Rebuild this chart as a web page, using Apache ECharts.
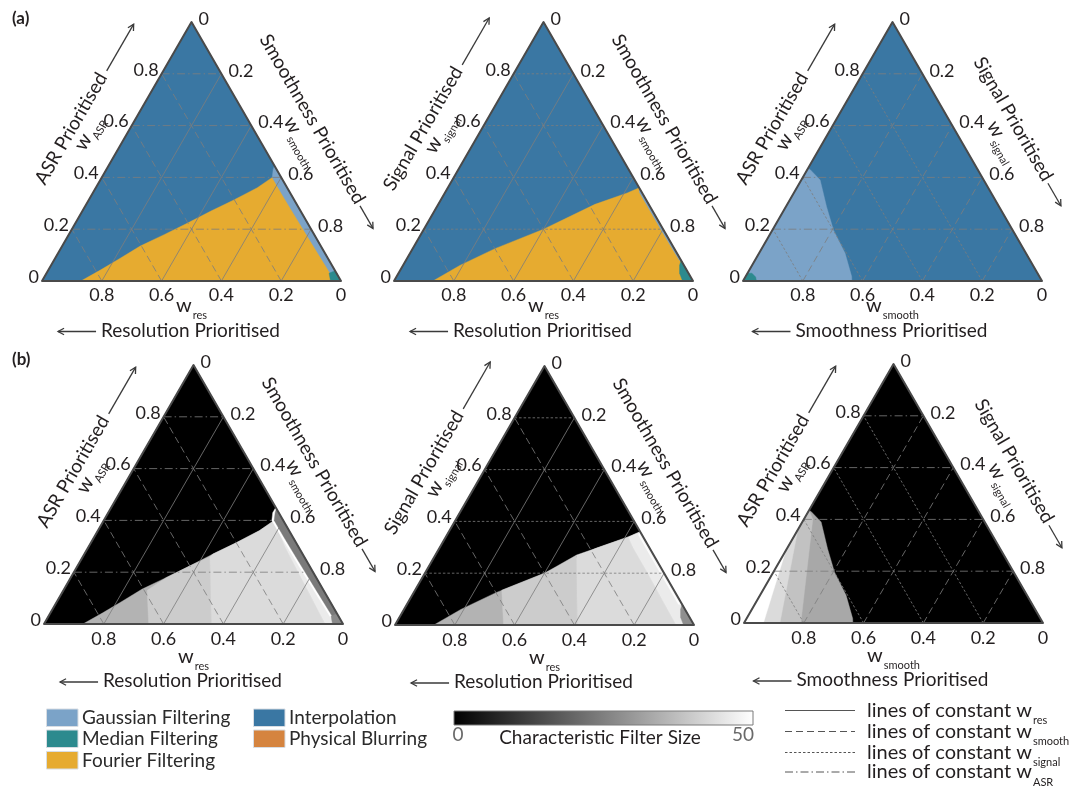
<!DOCTYPE html>
<html>
<head>
<meta charset="utf-8">
<title>Ternary maps of the preferred processing method</title>
<script src="https://cdn.jsdelivr.net/npm/echarts@6/dist/echarts.min.js"></script>
<style>
  html, body { margin: 0; padding: 0; background: #ffffff; }
  #chart { width: 1079px; height: 798px; }
</style>
</head>
<body>
<div id="chart"></div>
<script>
// ---------------------------------------------------------------------------
// Data
// Ternary points are written as [bottom-left weight, bottom-right weight, top weight].
// ---------------------------------------------------------------------------
const tickValues = [0, 0.2, 0.4, 0.6, 0.8];
const gridValues = [0.2, 0.4, 0.6, 0.8];

// corner weights of each column of panels: [bottom-left, bottom-right, top]
const panelWeights = [
  ['res', 'smooth', 'ASR'],
  ['res', 'smooth', 'signal'],
  ['smooth', 'signal', 'ASR']
];
const priorityNames = {
  res: 'Resolution Prioritised',
  smooth: 'Smoothness Prioritised',
  signal: 'Signal Prioritised',
  ASR: 'ASR Prioritised'
};

const methods = ['Gaussian Filtering', 'Median Filtering', 'Fourier Filtering', 'Interpolation', 'Physical Blurring'];
const methodColors = ['#7ba3c8', '#2c8a8e', '#e6ab30', '#3a77a3', '#d5843f'];

const filterSizeRange = [0, 50];
const filterSizeColors = ['#000000', '#ffffff'];

const triangleFull = [[1, 0, 0], [0, 1, 0], [0, 0, 1]];

// column 1: (res, smooth, ASR)
const p1Fourier = [[0.87, 0.13, 0], [0.784, 0.174, 0.042], [0.70, 0.215, 0.085], [0.604, 0.261, 0.135],
  [0.50, 0.32, 0.18], [0.403, 0.374, 0.223], [0.30, 0.43, 0.27], [0.202, 0.485, 0.313],
  [0.10, 0.54, 0.36], [0.03, 0.57, 0.40], [0, 0.59, 0.41], [0, 1, 0]];
const p1Gaussian = [[0, 0.555, 0.445], [0.012, 0.558, 0.43], [0.03, 0.57, 0.40], [0.03, 0.64, 0.33],
  [0.028, 0.722, 0.25], [0.025, 0.825, 0.15], [0.022, 0.918, 0.06], [0.02, 0.98, 0], [0, 1, 0]];
const p1Median = [[0.035, 0.965, 0], [0.025, 0.945, 0.03], [0, 0.96, 0.04], [0, 1, 0]];
const p1BandB = [[0.65, 0.35, 0], [0.59, 0.28, 0.13], [0.50, 0.32, 0.18], [0.403, 0.374, 0.223],
  [0.315, 0.425, 0.26], [0.44, 0.56, 0]];
const p1BandC = [[0.44, 0.56, 0], [0.315, 0.425, 0.26], [0.30, 0.43, 0.27], [0.202, 0.485, 0.313],
  [0.10, 0.54, 0.36], [0.03, 0.57, 0.40], [0.045, 0.655, 0.30], [0.05, 0.75, 0.20],
  [0.055, 0.845, 0.10], [0.06, 0.94, 0]];
const p1BandD = [[0.03, 0.57, 0.40], [0.045, 0.655, 0.30], [0.05, 0.75, 0.20], [0.055, 0.845, 0.10],
  [0.06, 0.94, 0], [0, 1, 0], [0, 0.59, 0.41]];
const p1Halo = [[0, 0.55, 0.45], [0.02, 0.55, 0.43], [0.038, 0.562, 0.40], [0.038, 0.632, 0.33],
  [0.036, 0.714, 0.25], [0.033, 0.817, 0.15], [0.03, 0.91, 0.06], [0.028, 0.972, 0], [0, 1, 0]];

// column 2: (res, smooth, signal)
const p2Fourier = [[0.87, 0.13, 0], [0.75, 0.19, 0.06], [0.6, 0.275, 0.125], [0.4, 0.4, 0.2],
  [0.18, 0.524, 0.296], [0.05, 0.61, 0.34], [0, 0.64, 0.36], [0, 1, 0]];
const p2Gaussian = [[0, 0.64, 0.36], [0.008, 0.65, 0.342], [0.008, 0.8, 0.192], [0.006, 0.914, 0.08], [0, 0.92, 0.08]];
const p2Median = [[0.035, 0.965, 0], [0.03, 0.94, 0.03], [0.015, 0.925, 0.06], [0, 0.92, 0.08], [0, 1, 0]];
const p2BandB = [[0.637, 0.363, 0], [0.576, 0.29, 0.134], [0.4, 0.4, 0.2], [0.258, 0.472, 0.27], [0.39, 0.61, 0]];
const p2BandC = [[0.39, 0.61, 0], [0.258, 0.472, 0.27], [0.18, 0.524, 0.296], [0.05, 0.61, 0.34],
  [0.055, 0.645, 0.30], [0.055, 0.745, 0.20], [0.058, 0.842, 0.10], [0.06, 0.94, 0]];
const p2BandD = [[0.05, 0.61, 0.34], [0.055, 0.645, 0.30], [0.055, 0.745, 0.20], [0.058, 0.842, 0.10],
  [0.06, 0.94, 0], [0, 1, 0], [0, 0.64, 0.36]];
const p2Halo = [[0, 0.64, 0.36], [0.012, 0.64, 0.348], [0.012, 0.908, 0.08], [0, 0.92, 0.08]];

// column 3: (smooth, signal, ASR)
const p3Gaussian = [[0.565, 0, 0.435], [0.56, 0.01, 0.43], [0.547, 0.063, 0.39], [0.577, 0.136, 0.287],
  [0.599, 0.204, 0.197], [0.605, 0.288, 0.107], [0.628, 0.355, 0.017], [0.636, 0.364, 0], [1, 0, 0]];
const p3Median = [[0.955, 0.045, 0], [0.95, 0.035, 0.015], [0.955, 0.015, 0.03], [0.97, 0, 0.03], [1, 0, 0]];
const p3BandL2 = [[0.81, 0.19, 0], [0.57, 0.03, 0.40], [0.565, 0, 0.435], [1, 0, 0]];
const p3BandL1 = [[0.88, 0.12, 0], [0.64, 0, 0.36], [1, 0, 0]];
const p3BandW = [[0.935, 0.065, 0], [0.72, 0, 0.28], [1, 0, 0]];

// row (a): [polygon, method index]
const methodMaps = [
  [[triangleFull, 3], [p1Fourier, 2], [p1Gaussian, 0], [p1Median, 1]],
  [[triangleFull, 3], [p2Fourier, 2], [p2Gaussian, 0], [p2Median, 1]],
  [[triangleFull, 3], [p3Gaussian, 0], [p3Median, 1]]
];
// row (b): [polygon, characteristic filter size]
const sizeMaps = [
  [[triangleFull, 0], [p1Fourier, 35], [p1BandB, 40], [p1BandC, 43], [p1BandD, 46], [p1Halo, 50], [p1Gaussian, 24], [p1Median, 27]],
  [[triangleFull, 0], [p2Fourier, 35], [p2BandB, 40], [p2BandC, 43], [p2BandD, 46], [p2Halo, 50], [p2Gaussian, 48], [p2Median, 28]],
  [[triangleFull, 0], [p3Gaussian, 33], [p3BandL2, 38], [p3BandL1, 43], [p3BandW, 50], [p3Median, 50]]
];

// ---------------------------------------------------------------------------
// Layout and style
// ---------------------------------------------------------------------------
const H = Math.sqrt(3) / 2;
const FONT = 'Lato, "Noto Sans", sans-serif';
const TXT = '#231f20';
const GRID_COLOR = 'rgba(125,125,125,0.9)';
const lineDashes = { res: null, smooth: [7, 4], signal: [2.5, 2], ASR: [8, 3, 1.5, 3] };
// grid families: 0 = lines rising right from the bottom ticks, 1 = lines rising left, 2 = horizontal;
// each takes the line style of the corner weight listed here (index into panelWeights)
const familyStyle = [0, 1, 2];

const panelBoxes = [
  { left: 42, top: 22 }, { left: 394, top: 22 }, { left: 743, top: 22 },
  { left: 44, top: 365 }, { left: 395, top: 366 }, { left: 744, top: 364 }
];
const TRI_W = 299, TRI_H = 259;
const rowOffsets = [
  { tick: 14, w: 25, prio: 49.5 },
  { tick: 15, w: 33, prio: 57 }
];

const measureCtx = document.createElement('canvas').getContext('2d');
function textWidth(str, size, weight) {
  measureCtx.font = (weight || 'normal') + ' ' + size + 'px ' + FONT;
  return measureCtx.measureText(str).width;
}
function toXY(w) { return [w[1] + w[2] / 2, w[2] * H]; }

function label(str, x, y, align, size, extra) {
  return {
    type: 'text', x: x, y: y,
    style: Object.assign({ text: str, fill: TXT, fontSize: size || 18, fontFamily: FONT,
      align: align || 'center', verticalAlign: 'middle' }, extra || {})
  };
}
function arrow(x1, y1, x2, y2) {
  const dx = x2 - x1, dy = y2 - y1, len = Math.hypot(dx, dy), ux = dx / len, uy = dy / len;
  const hl = 6, hw = 3.2;
  return [
    { type: 'line', shape: { x1: x1, y1: y1, x2: x2, y2: y2 }, style: { stroke: '#3a3a3a', lineWidth: 1.3 } },
    { type: 'polyline', shape: { points: [[x2 - ux * hl - uy * hw, y2 - uy * hl + ux * hw], [x2, y2],
      [x2 - ux * hl + uy * hw, y2 - uy * hl - ux * hw]] }, style: { stroke: '#3a3a3a', lineWidth: 1.3, fill: null } }
  ];
}
function wTitle(cx, cy, rot, sub) {
  const wW = textWidth('w', 20), sW = textWidth(sub, 11);
  const x0 = -(wW + 1 + sW) / 2;
  return {
    type: 'group', x: cx, y: cy, rotation: rot,
    children: [
      { type: 'text', x: x0, y: 0, style: { text: 'w', fill: TXT, fontSize: 20, fontFamily: FONT, align: 'left', verticalAlign: 'middle' } },
      { type: 'text', x: x0 + wW + 1, y: 9, style: { text: sub, fill: TXT, fontSize: 11, fontFamily: FONT, align: 'left', verticalAlign: 'middle' } }
    ]
  };
}

// ---------------------------------------------------------------------------
// Series builders
// ---------------------------------------------------------------------------
function regionSeries(idx, regions, useVisual) {
  return {
    type: 'custom', coordinateSystem: 'cartesian2d', xAxisIndex: idx, yAxisIndex: idx,
    silent: true, animation: false, z: 1,
    data: regions.map((r, i) => [i, r[1]]),
    renderItem: function (params, api) {
      const poly = regions[api.value(0)][0];
      const pts = poly.map(w => api.coord(toXY(w)));
      const fill = useVisual ? api.visual('color') : methodColors[api.value(1)];
      return { type: 'polygon', shape: { points: pts }, style: { fill: fill, stroke: fill, lineWidth: 0.4 } };
    }
  };
}

function gridSeries(idx, col) {
  const data = [];
  [0, 1, 2].forEach(a => gridValues.forEach(v => data.push([a, v])));
  return {
    type: 'custom', coordinateSystem: 'cartesian2d', xAxisIndex: idx, yAxisIndex: idx,
    silent: true, animation: false, z: 2, data: data,
    renderItem: function (params, api) {
      const a = api.value(0), v = api.value(1);
      let p1, p2;
      if (a === 0) { p1 = [v, 1 - v, 0]; p2 = [0, 1 - v, v]; }      // from bottom tick v, rising right
      else if (a === 1) { p1 = [1 - v, v, 0]; p2 = [1 - v, 0, v]; } // from bottom tick 1-v, rising left
      else { p1 = [1 - v, 0, v]; p2 = [0, 1 - v, v]; }             // horizontal at top weight v
      const s = api.coord(toXY(p1)), e = api.coord(toXY(p2));
      return { type: 'line', shape: { x1: s[0], y1: s[1], x2: e[0], y2: e[1] },
        style: { stroke: GRID_COLOR, lineWidth: 0.9, lineDash: lineDashes[panelWeights[col][familyStyle[a]]] } };
    }
  };
}

function frameSeries(idx, col, row) {
  const [vL, vR, vT] = panelWeights[col];
  const off = rowOffsets[row];
  return {
    type: 'custom', coordinateSystem: 'cartesian2d', xAxisIndex: idx, yAxisIndex: idx,
    silent: true, animation: false, z: 3, data: [[0, 0]],
    renderItem: function (params, api) {
      const P = (l, r, t) => api.coord(toXY([l, r, t]));
      const BL = P(1, 0, 0), BR = P(0, 1, 0), TP = P(0, 0, 1);
      const ch = [];
      ch.push({ type: 'polygon', shape: { points: [BL, BR, TP] },
        style: { fill: null, stroke: '#4a4a4a', lineWidth: 2, lineJoin: 'round' } });

      tickValues.forEach(v => {
        const s = v === 0 ? '0' : v.toFixed(1);
        const b = P(v, 1 - v, 0);
        ch.push(label(s, b[0], b[1] + off.tick, 'center'));
        const l = P(1 - v, 0, v);
        ch.push(label(s, l[0] - 3, l[1] - 4, 'right'));
        const r = P(0, v, 1 - v);
        ch.push(label(s, r[0] + 7, r[1] - 3, 'left'));
      });

      // bottom axis
      const cx = (BL[0] + BR[0]) / 2, by = BL[1];
      ch.push(wTitle(cx, by + off.w, 0, vL));
      const bText = priorityNames[vL];
      const bW = textWidth(bText, 19);
      ch.push(label(bText, cx - 1, by + off.prio, 'center', 19));
      const bl = cx - 1 - bW / 2;
      ch.push.apply(ch, arrow(bl - 5, by + off.prio + 1, bl - 43, by + off.prio + 1));

      // left axis (reads upward)
      const uL = [(TP[0] - BL[0]), (TP[1] - BL[1])];
      const lenL = Math.hypot(uL[0], uL[1]); uL[0] /= lenL; uL[1] /= lenL;
      const nL = [uL[1], -uL[0]];
      const mL = [(TP[0] + BL[0]) / 2, (TP[1] + BL[1]) / 2];
      ch.push(wTitle(mL[0] + nL[0] * 34 + uL[0] * 2, mL[1] + nL[1] * 34 + uL[1] * 2, Math.PI / 3, vT));
      const lText = priorityNames[vT];
      const lW = textWidth(lText, 19);
      const lc = [mL[0] + nL[0] * 51 - uL[0] * 3, mL[1] + nL[1] * 51 - uL[1] * 3];
      ch.push({ type: 'text', x: lc[0], y: lc[1], rotation: Math.PI / 3,
        style: { text: lText, fill: TXT, fontSize: 19, fontFamily: FONT, align: 'center', verticalAlign: 'middle' } });
      const la = [lc[0] + uL[0] * (lW / 2 + 5) - nL[0] * 2, lc[1] + uL[1] * (lW / 2 + 5) - nL[1] * 2];
      ch.push.apply(ch, arrow(la[0], la[1], la[0] + uL[0] * 54, la[1] + uL[1] * 54));

      // right axis (reads downward)
      const uR = [(BR[0] - TP[0]), (BR[1] - TP[1])];
      const lenR = Math.hypot(uR[0], uR[1]); uR[0] /= lenR; uR[1] /= lenR;
      const nR = [uR[1], -uR[0]];
      const mR = [(TP[0] + BR[0]) / 2, (TP[1] + BR[1]) / 2];
      ch.push(wTitle(mR[0] + nR[0] * 36 + uR[0] * 9, mR[1] + nR[1] * 36 + uR[1] * 9, -Math.PI / 3, vR));
      const rText = priorityNames[vR];
      const rW = textWidth(rText, 19);
      const rc = [mR[0] + nR[0] * 56 - uR[0] * 5, mR[1] + nR[1] * 56 - uR[1] * 5];
      ch.push({ type: 'text', x: rc[0], y: rc[1], rotation: -Math.PI / 3,
        style: { text: rText, fill: TXT, fontSize: 19, fontFamily: FONT, align: 'center', verticalAlign: 'middle' } });
      const ra = [rc[0] + uR[0] * (rW / 2 + 3) - nR[0] * 2, rc[1] + uR[1] * (rW / 2 + 3) - nR[1] * 2];
      ch.push.apply(ch, arrow(ra[0], ra[1], ra[0] + uR[0] * 26, ra[1] + uR[1] * 26));

      return { type: 'group', children: ch };
    }
  };
}

// ---------------------------------------------------------------------------
// Option
// ---------------------------------------------------------------------------
const grids = [], xAxes = [], yAxes = [], series = [], sizeSeriesIdx = [];
panelBoxes.forEach((b, i) => {
  grids.push({ left: b.left, top: b.top, width: TRI_W, height: TRI_H });
  xAxes.push({ type: 'value', gridIndex: i, min: 0, max: 1, show: false });
  yAxes.push({ type: 'value', gridIndex: i, min: 0, max: H, show: false });
});
panelBoxes.forEach((b, i) => {
  const row = Math.floor(i / 3), col = i % 3;
  if (row === 0) {
    series.push(regionSeries(i, methodMaps[col], false));
  } else {
    sizeSeriesIdx.push(series.length);
    series.push(regionSeries(i, sizeMaps[col], true));
  }
  series.push(gridSeries(i, col));
  series.push(frameSeries(i, col, row));
});

// legends
const graphics = [];
graphics.push({ type: 'text', left: 12, top: 10, style: { text: '(a)', fill: TXT, fontSize: 17, fontWeight: 'bold', fontFamily: FONT } });
graphics.push({ type: 'text', left: 12, top: 351, style: { text: '(b)', fill: TXT, fontSize: 17, fontWeight: 'bold', fontFamily: FONT } });

const methodLegendSlots = [[46.5, 709], [46.5, 730], [46.5, 751.5], [253.5, 709], [253.5, 730]];
methods.forEach((m, i) => {
  const s = methodLegendSlots[i];
  graphics.push({ type: 'rect', shape: { x: s[0], y: s[1], width: 31.5, height: 17.5 },
    style: { fill: methodColors[i], stroke: '#d8dde3', lineWidth: 1 } });
  graphics.push({ type: 'text', x: s[0] + 35.5, y: s[1] + 9,
    style: { text: m, fill: '#2b2b2b', fontSize: 19, fontFamily: FONT, align: 'left', verticalAlign: 'middle' } });
});

// colour bar for the characteristic filter size
graphics.push({ type: 'rect', shape: { x: 454, y: 711, width: 299, height: 14 },
  style: { fill: new echarts.graphic.LinearGradient(0, 0, 1, 0,
    [{ offset: 0, color: filterSizeColors[0] }, { offset: 1, color: filterSizeColors[1] }]),
    stroke: '#7a7a7a', lineWidth: 1 } });
graphics.push({ type: 'text', x: 458, y: 735, style: { text: String(filterSizeRange[0]), fill: '#6a6a6a', fontSize: 19, fontFamily: FONT, align: 'center', verticalAlign: 'middle' } });
graphics.push({ type: 'text', x: 743, y: 735, style: { text: String(filterSizeRange[1]), fill: '#6a6a6a', fontSize: 19, fontFamily: FONT, align: 'center', verticalAlign: 'middle' } });
graphics.push({ type: 'text', x: 600, y: 738, style: { text: 'Characteristic Filter Size', fill: TXT, fontSize: 19, fontFamily: FONT, align: 'center', verticalAlign: 'middle' } });

// grid line styles
const lineLegendOrder = ['res', 'smooth', 'signal', 'ASR'];
const lineLegendY = [710.5, 731.5, 752.5, 772];
const baseW = textWidth('lines of constant w', 20);
lineLegendOrder.forEach((k, i) => {
  const y = lineLegendY[i];
  graphics.push({ type: 'line', shape: { x1: 785, y1: y, x2: 855, y2: y },
    style: { stroke: '#555555', lineWidth: 1, lineDash: lineDashes[k] } });
  graphics.push({ type: 'text', x: 867, y: y, style: { text: 'lines of constant w', fill: TXT, fontSize: 20, fontFamily: FONT, align: 'left', verticalAlign: 'middle' } });
  graphics.push({ type: 'text', x: 867 + baseW + 1, y: y + 10, style: { text: k, fill: TXT, fontSize: 11, fontFamily: FONT, align: 'left', verticalAlign: 'middle' } });
});

const option = {
  animation: false,
  backgroundColor: '#ffffff',
  grid: grids,
  xAxis: xAxes,
  yAxis: yAxes,
  visualMap: {
    type: 'continuous', show: false, min: filterSizeRange[0], max: filterSizeRange[1],
    dimension: 1, seriesIndex: sizeSeriesIdx, inRange: { color: filterSizeColors }
  },
  series: series,
  graphic: graphics
};

const chart = echarts.init(document.getElementById('chart'), null, { renderer: 'canvas' });
chart.setOption(option);
</script>
</body>
</html>
